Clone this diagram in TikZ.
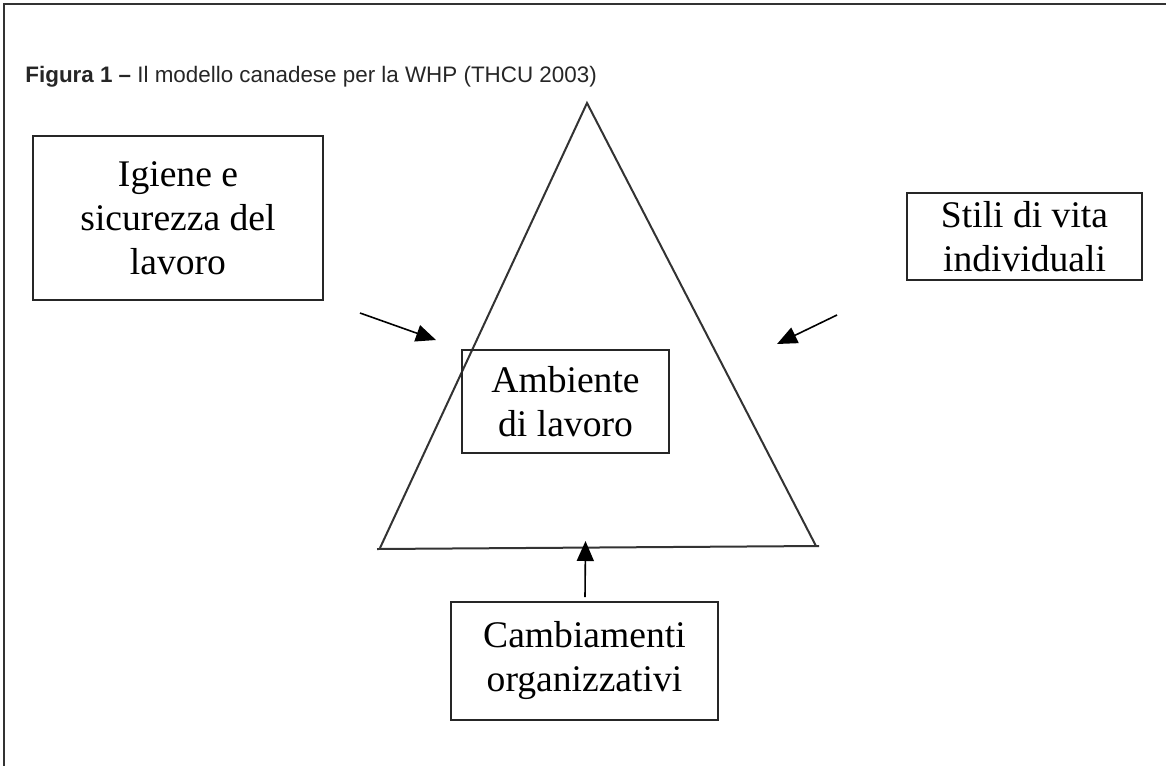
\documentclass[tikz,border=0pt]{standalone}
\usepackage{fontspec}
\setmainfont{Liberation Serif}
\setsansfont{Liberation Sans}
\usetikzlibrary{arrows.meta,positioning}

\begin{document}
\begin{tikzpicture}[
    x=0.5pt, y=-0.5pt,
    framebox/.style={draw=black!85, line width=1pt, inner sep=0pt,
                     align=center, font=\fontsize{18.8}{22}\selectfont},
    push/.style={-{Triangle[length=10pt, width=8.5pt]}, line width=0.8pt},
    rule/.style={draw=black!80, line width=1pt}
  ]
  \useasboundingbox (0,0) rectangle (1166,766);

  %% Frame and title
  \draw[rule] (1166,4) -- (4,4) -- (4,766);
  \node[anchor=base west, inner sep=0pt,
        font=\sffamily\fontsize{11.2}{13}\selectfont,
        text=black!85] (title) at (25,82)
    {\textbf{Figura 1 –} Il modello canadese per la WHP (THCU 2003)};

  %% Triangle
  \coordinate (apex) at (587,103);
  \coordinate (baseL) at (380,548);
  \coordinate (baseR) at (816,546);
  \draw[rule] (baseL) -- (apex) -- (baseR);
  \draw[rule] (377,549) -- (819,546);

  %% Boxes
  \node[framebox, minimum width=145pt, minimum height=82pt]
    (igiene) at (178,218) {Igiene e\\sicurezza del\\lavoro};
  \node[framebox, minimum width=117.5pt, minimum height=43.5pt]
    (stili) at (1024.5,236.5) {Stili di vita\\individuali};
  \node[framebox, minimum width=103.5pt, minimum height=51.5pt]
    (ambiente) at (565.5,401.5) {Ambiente\\di lavoro};
  \node[framebox, minimum width=133.5pt, minimum height=59pt]
    (cambiamenti) at (584.5,661) {Cambiamenti\\organizzativi};

  %% Arrows
  \coordinate (igieneTail) at (360,313);
  \coordinate (igieneTip) at (436,340);
  \coordinate (stiliTail) at (837,315);
  \coordinate (stiliTip) at (777,344);
  \coordinate (cambiTail) at (585,597);
  \coordinate (cambiTip) at (585.5,541);
  \draw[push] (igieneTail) -- (igieneTip);
  \draw[push] (stiliTail) -- (stiliTip);
  \draw[push] (cambiTail) -- (cambiTip);

\end{tikzpicture}
\end{document}
